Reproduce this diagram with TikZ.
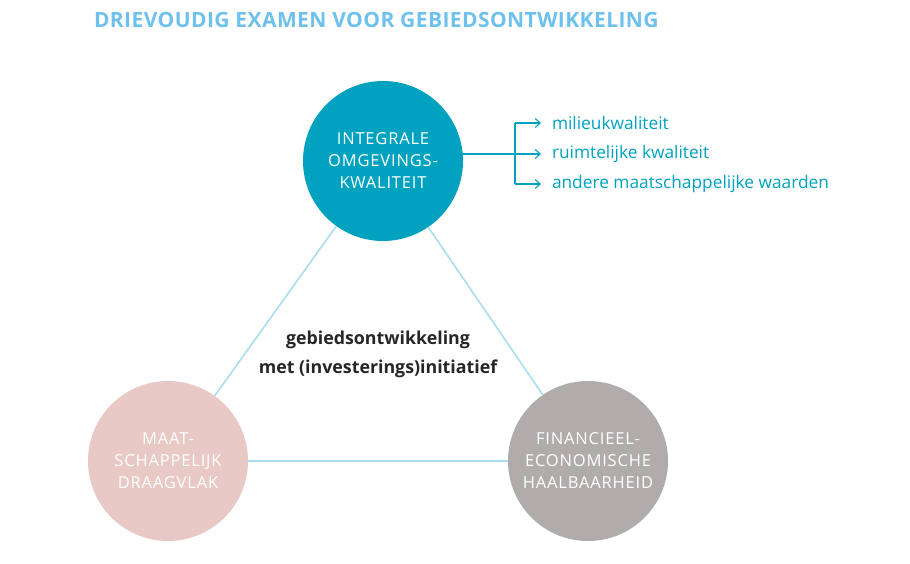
\documentclass[tikz,border=0pt]{standalone}
\usepackage{fontspec}
\setmainfont{Open Sans}
\usetikzlibrary{calc,arrows.meta}
\definecolor{tealc}{HTML}{00A2C0}
\definecolor{pinkc}{HTML}{E8C9C5}
\definecolor{greyc}{HTML}{B0ACAC}
\definecolor{sky}{HTML}{6EC1EC}
\definecolor{edge}{HTML}{A9DDF2}

\begin{document}
\begin{tikzpicture}[x=1pt,y=-1pt,inner sep=0pt,outer sep=0pt,
    pillar/.style={circle,minimum size=160pt,text=white,align=center,font=\fontsize{16.5}{22}\selectfont\addfontfeature{LetterSpace=5}},
    side/.style={draw=edge,line width=1.6pt},
    branch/.style={draw=tealc,line width=1.1pt},
    item/.style={anchor=west,text=tealc,font=\fontsize{17.3}{20}\selectfont}]
    \useasboundingbox (0,0) rectangle (910,563);
    % title
    \node[anchor=west,text=sky,font=\fontsize{21}{24}\selectfont\bfseries\addfontfeature{LetterSpace=2}] (title) at (94,20)
    {DRIEVOUDIG EXAMEN VOOR GEBIEDSONTWIKKELING};

    % three pillars
    \node[pillar,fill=tealc] (quality) at (383,161) {INTEGRALE\\OMGEVINGS-\\KWALITEIT};
    \node[pillar,fill=pinkc] (support) at (168,461) {MAAT-\\SCHAPPELIJK\\DRAAGVLAK};
    \node[pillar,fill=greyc] (finance) at (588,461) {FINANCIEEL-\\ECONOMISCHE\\HAALBAARHEID};

    \draw[side] (quality) -- (support);
    \draw[side] (quality) -- (finance);
    \draw[side] (support) -- (finance);

    \node[align=center,font=\fontsize{17.8}{29}\selectfont\bfseries,text=black!85] (core) at (378,354)
    {gebiedsontwikkeling\\met (investerings)initiatief};

    % branches
    \coordinate (fork) at (515,154);
    \node[item] (env) at (552,123) {milieukwaliteit};
    \node[item] (space) at (552,154) {ruimtelijke kwaliteit};
    \node[item] (other) at (552,184) {andere maatschappelijke waarden};
    \draw[branch] ($(fork -| quality.east)+(-1,0)$) -- (fork);
    \draw[branch] (fork |- env) -- (fork |- other);
    \foreach \t in {env,space,other}
      \draw[branch,-{Straight Barb[length=5pt,width=9pt]}] (fork |- \t) -- ($(\t.west)+(-11,0)$);
\end{tikzpicture}
\end{document}
